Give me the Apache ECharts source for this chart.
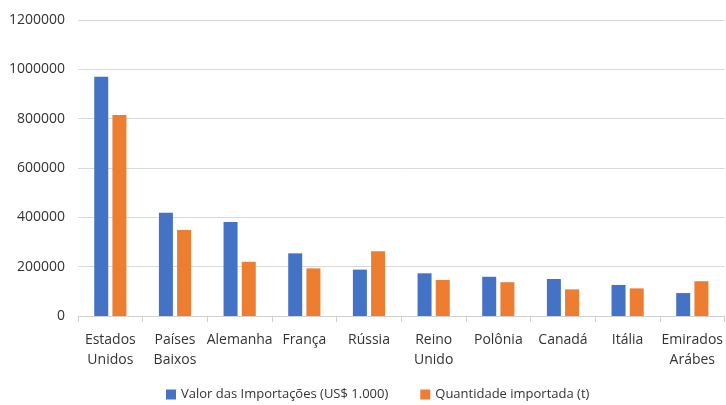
<!DOCTYPE html>
<html><head><meta charset="utf-8">
<script src="https://cdn.jsdelivr.net/npm/echarts@6/dist/echarts.min.js"></script>
<style>html,body{margin:0;padding:0;background:#fff}#c{width:726px;height:405px}</style>
</head><body><div id="c"></div>
<script>
const categories = ["Estados\nUnidos","Países\nBaixos","Alemanha","França","Rússia","Reino\nUnido","Polônia","Canadá","Itália","Emirados\nArábes"];
const valorImportacoes = [970000,419000,381000,254000,188000,173000,159000,150000,126000,93000];
const quantidadeImportada = [815000,349000,220000,193000,263000,146000,137000,108000,112000,141000];
const seriesNames = ["Valor das Importações (US$ 1.000)","Quantidade importada (t)"];
const yTicks = {min:0,max:1200000,interval:200000};

const font = "Open Sans";
const chart = echarts.init(document.getElementById('c'), null, {renderer:'canvas'});
chart.setOption({
  animation:false,
  textStyle:{fontFamily:font},
  grid:{left:78,right:1,top:20,bottom:89},
  legend:{
    top:388,left:161,padding:[0,5],itemWidth:10,itemHeight:10,itemGap:32,icon:'rect',
    textStyle:{fontFamily:font,fontSize:13,color:'#333'},
    data:seriesNames
  },
  xAxis:{
    type:'category',data:categories,
    axisLine:{lineStyle:{color:'#d0d0d0'}},
    axisTick:{show:true,length:6,lineStyle:{color:'#d0d0d0'}},
    axisLabel:{fontFamily:font,fontSize:14,color:'#333',margin:14,lineHeight:20,interval:0}
  },
  yAxis:{
    type:'value',min:yTicks.min,max:yTicks.max,interval:yTicks.interval,
    axisLine:{show:false},axisTick:{show:false},
    splitLine:{lineStyle:{color:'#d9d9d9',width:1}},
    axisLabel:{fontFamily:font,fontSize:14,color:'#333',margin:13,formatter:v=>String(v)}
  },
  series:[
    {name:seriesNames[0],type:'bar',data:valorImportacoes,barWidth:14,barGap:'30%',itemStyle:{color:'#4472C4'}},
    {name:seriesNames[1],type:'bar',data:quantidadeImportada,barWidth:14,barGap:'30%',itemStyle:{color:'#ED7D31'}}
  ]
});
</script></body></html>
